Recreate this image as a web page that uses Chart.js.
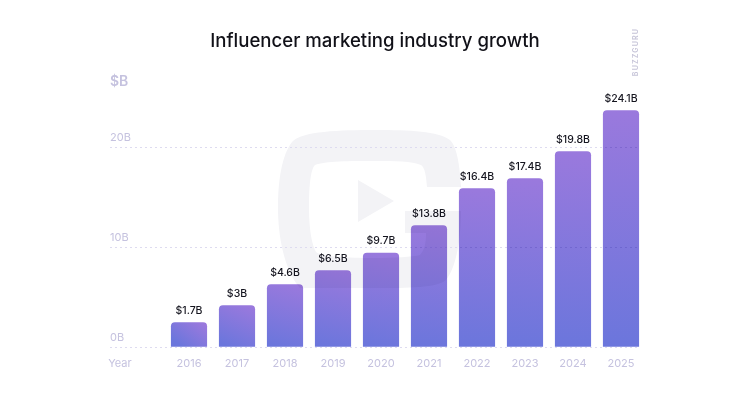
<!DOCTYPE html>
<html><head><meta charset="utf-8">
<style>html,body{margin:0;padding:0;background:#fff}canvas{display:block}</style>
<script src="https://cdn.jsdelivr.net/npm/chart.js@4/dist/chart.umd.min.js"></script>
</head><body><canvas id="c" width="750" height="400"></canvas>
<script>
const years=[2016,2017,2018,2019,2020,2021,2022,2023,2024,2025];
const barHeights=[2.45,4.15,6.25,7.65,9.4,12.15,15.85,16.85,19.55,23.65];
const valueLabels=['$1.7B','$3B','$4.6B','$6.5B','$9.7B','$13.8B','$16.4B','$17.4B','$19.8B','$24.1B'];
const yTicks=[0,10,20];
const yearSlot=2014.56;
const FONT='Inter, "Noto Sans", sans-serif';
const LIGHT='#c5c2df';

const watermark={id:'watermark',beforeDraw(ch){
  const c=ch.ctx;c.save();c.fillStyle='#f3f3f6';
  const g=new Path2D('M300 288 C284 270 278 235 278 208 C278 180 282 155 292 142 C302 131 340 130 375 130 C410 130 438 131 450 140 C458 148 460 170 461 187 L427 187 C426 175 425 168 421 165 C412 161 395 161 375 161 C350 161 325 161 315 165 C310 170 309 190 309 208 C309 230 312 245 316 252 C322 257 350 258 372 258 C395 258 412 257 420 255 C424 250 426 245 426 233 L405 233 L405 211 L461 211 C461 240 456 268 446 280 C436 288 410 288 375 288 Z');
  c.fill(g);
  c.beginPath();c.moveTo(358,180);c.lineTo(394,201);c.lineTo(358,222);c.closePath();c.fill();
  c.restore();
}};
const blend={id:'blend',
  beforeDatasetsDraw(ch){ch.ctx.save();ch.ctx.globalCompositeOperation='multiply';},
  afterDatasetsDraw(ch){ch.ctx.restore();}};
const texts={id:'texts',afterDraw(ch){
  const c=ch.ctx;c.save();
  c.textAlign='center';c.textBaseline='middle';c.fillStyle='#15151f';c.font='500 10.5px '+FONT;
  ch.getDatasetMeta(0).data.forEach((b,i)=>c.fillText(valueLabels[i],b.x,b.y-12));
  c.textAlign='left';c.fillStyle=LIGHT;c.font='600 14px '+FONT;
  c.fillText('$B',110,81.5);
  c.translate(636,52);c.rotate(-Math.PI/2);c.textAlign='center';c.fillStyle='#c6c4d8';
  c.font='600 7px '+FONT;c.letterSpacing='1.2px';c.fillText('BUZZGURU',0,0);
  c.restore();
}};
function fill(ctx){
  const ch=ctx.chart,y=ch.scales.y,x=ch.scales.x;
  const i=ctx.dataIndex;
  if(!y||!x||i===undefined)return '#8a78dd';
  const top=y.getPixelForValue(barHeights[i]),base=y.getPixelForValue(0),cx=x.getPixelForValue(years[i]);
  if(![top,base,cx].every(Number.isFinite))return '#8a78dd';
  const g=ch.ctx.createLinearGradient(cx+12,top,cx-6,base);
  g.addColorStop(0,'#9a79dd');g.addColorStop(1,'#6b76dc');return g;
}
new Chart(document.getElementById('c'),{
  type:'bar',
  data:{datasets:[{data:years.map((yr,i)=>({x:yr,y:barHeights[i]})),backgroundColor:fill,barThickness:35.5,borderRadius:{topLeft:4,topRight:4},borderSkipped:'bottom'}]},
  plugins:[watermark,blend,texts],
  options:{responsive:false,animation:false,devicePixelRatio:1,
    layout:{padding:{left:110,right:110,top:0,bottom:0}},
    plugins:{legend:{display:false},tooltip:{enabled:false},
      title:{display:true,text:'Influencer marketing industry growth',color:'#111118',font:{family:FONT,size:18.6,weight:'500',lineHeight:1.2},padding:{top:30,bottom:44.7}}},
    scales:{
      x:{type:'linear',offset:false,min:2014.354,max:2025.396,
        grid:{display:false},border:{display:false},
        afterBuildTicks(s){s.ticks=[yearSlot,...years].map(v=>({value:v}));},
        afterFit(s){s.height=53;},
        ticks:{autoSkip:false,maxRotation:0,padding:2,color:LIGHT,font:{family:FONT,size:11},callback:v=>v===yearSlot?'Year':String(v)}},
      y:{min:0,max:25,
        border:{display:false,dash:[2,3]},
        grid:{color:'#dedbf0',lineWidth:1,drawTicks:false},
        afterBuildTicks(s){s.ticks=yTicks.map(v=>({value:v}));},
        ticks:{mirror:true,padding:0,labelOffset:-9,color:LIGHT,font:{family:FONT,size:11},callback:v=>v+'B'}}
    }
  }
});
</script></body></html>
